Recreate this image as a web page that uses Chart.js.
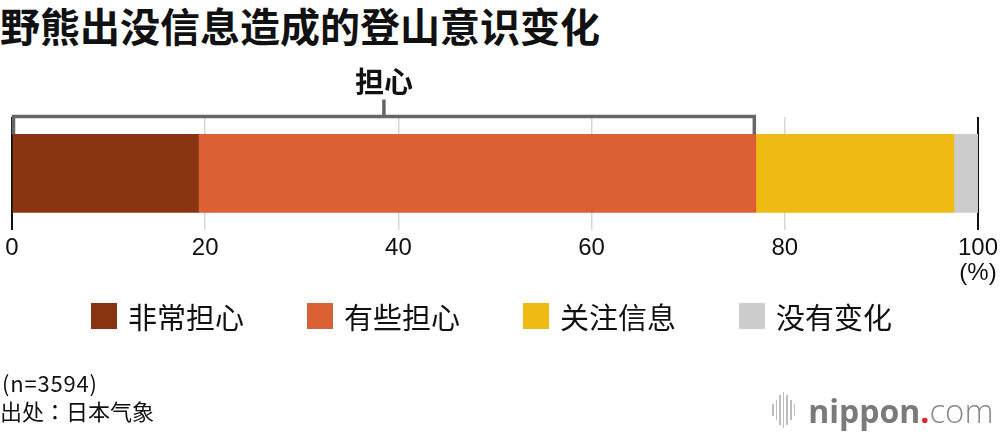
<!DOCTYPE html>
<html><head><meta charset="utf-8">
<script src="https://cdn.jsdelivr.net/npm/chart.js@4.4.1/dist/chart.umd.min.js"></script>
<style>
html,body{margin:0;padding:0;background:#fff;}
#wrap{position:relative;width:1000px;height:432px;overflow:hidden;font-family:"Noto Sans CJK SC",sans-serif;color:#111;}
#title{position:absolute;left:0;top:4px;font-size:40px;font-weight:700;line-height:42px;white-space:nowrap;}
#c{position:absolute;left:0;top:0;}
#legend{position:absolute;left:91px;top:303px;display:flex;gap:63px;}
.item{display:flex;align-items:center;height:26px;}
.box{width:26px;height:26px;margin-right:11px;}
.lt{font-size:29px;line-height:26px;white-space:nowrap;}
#note{position:absolute;left:0;top:368px;font-size:22px;line-height:28px;font-family:"Noto Sans CJK JP",sans-serif;}
#note .n1{letter-spacing:0.8px;padding-left:2px;}
#logo{position:absolute;left:772px;top:390px;height:40px;display:flex;align-items:center;white-space:nowrap;}
#bars{display:flex;align-items:center;gap:2px;height:36px;margin-right:13px;}
#bars span{display:block;width:1.6px;background:#bdbdbd;}
#logo .n{font-family:"Open Sans",sans-serif;font-weight:700;font-size:32px;color:#7a7a7a;}
#logo .d{font-family:"Open Sans",sans-serif;font-weight:700;font-size:32px;color:#e8202a;}
#logo .m{font-family:"Open Sans",sans-serif;font-weight:300;font-size:33px;color:#8a8a8a;}
</style></head>
<body><div id="wrap">
<div id="title">野熊出没信息造成的登山意识变化</div>
<canvas id="c" width="1000" height="432"></canvas>
<div id="legend"></div>
<div id="note"><span class="n1">(n=3594)</span><br>出处：日本气象</div>
<div id="logo"><div id="bars"><span style="height:12px"></span><span style="height:20px"></span><span style="height:30px"></span><span style="height:36px"></span><span style="height:30px"></span><span style="height:20px"></span><span style="height:12px"></span></div><span class="n">nippon</span><span class="d">.</span><span class="m">com</span></div>
</div>
<script>
// ---- data ----
const categories = ['登山意识'];
const seriesNames = ['非常担心', '有些担心', '关注信息', '没有变化'];
const seriesValues = [19.3, 57.7, 20.5, 2.5];
const seriesColors = ['#8b3414', '#db6034', '#f0ba14', '#cccccc'];
const tickValues = [0, 20, 40, 60, 80, 100];
const unitLabel = '(%)';
const bracketLabel = '担心';
const bracketSeries = [0, 1];

const bracketPlugin = {
  id: 'bracket',
  afterDatasetsDraw(chart) {
    const ctx = chart.ctx;
    const xs = chart.scales.x;
    const bar = chart.getDatasetMeta(0).data[0];
    const barTop = bar.y - bar.height / 2;
    let end = 0;
    bracketSeries.forEach(i => { end += seriesValues[i]; });
    const x0 = xs.getPixelForValue(0);
    const x1 = xs.getPixelForValue(end);
    const yb = chart.chartArea.top - 0.5;
    const cx = (x0 + x1) / 2;
    ctx.save();
    ctx.strokeStyle = '#666666';
    ctx.lineWidth = 3.5;
    ctx.lineJoin = 'miter';
    ctx.beginPath();
    ctx.moveTo(x0 + 1.5, barTop);
    ctx.lineTo(x0 + 1.5, yb);
    ctx.lineTo(x1 - 1.5, yb);
    ctx.lineTo(x1 - 1.5, barTop);
    ctx.stroke();
    ctx.beginPath();
    ctx.moveTo(cx, yb);
    ctx.lineTo(cx, yb - 17);
    ctx.stroke();
    ctx.fillStyle = '#111';
    ctx.font = '700 29px "Noto Sans CJK SC"';
    ctx.textAlign = 'center';
    ctx.textBaseline = 'middle';
    ctx.fillText(bracketLabel, cx, yb - 35);
    ctx.restore();
  }
};

const chart = new Chart(document.getElementById('c'), {
  type: 'bar',
  data: {
    labels: categories,
    datasets: seriesNames.map((n, i) => ({
      label: n,
      data: [seriesValues[i]],
      backgroundColor: seriesColors[i],
      borderWidth: 0,
      barThickness: 78
    }))
  },
  options: {
    indexAxis: 'y',
    responsive: false,
    animation: false,
    events: [],
    layout: { padding: { top: 117, left: 0, right: 0, bottom: 140 } },
    plugins: { legend: { display: false }, tooltip: { enabled: false }, title: { display: false } },
    scales: {
      x: {
        stacked: true,
        min: 0, max: 100,
        afterBuildTicks(scale) { scale.ticks = tickValues.map(v => ({ value: v })); },
        afterFit(scale) { scale.paddingLeft = 12; scale.paddingRight = 22; },
        border: { display: false },
        grid: {
          drawTicks: false,
          color: c => (c.tick && (c.tick.value === 0 || c.tick.value === 100)) ? '#111111' : '#d6d6d6',
          lineWidth: c => (c.tick && (c.tick.value === 0 || c.tick.value === 100)) ? 2 : 1.5
        },
        ticks: {
          padding: 6,
          color: '#111',
          maxRotation: 0,
          autoSkip: false,
          font: { family: '"Liberation Sans", Arial, sans-serif', size: 24, lineHeight: 1.05 },
          callback: v => v === 100 ? ['100', unitLabel] : String(v)
        }
      },
      y: { stacked: true, display: false }
    }
  },
  plugins: [bracketPlugin]
});

// HTML legend built from the chart's datasets
const lg = document.getElementById('legend');
chart.data.datasets.forEach(ds => {
  const it = document.createElement('div'); it.className = 'item';
  const b = document.createElement('div'); b.className = 'box'; b.style.background = ds.backgroundColor;
  const t = document.createElement('div'); t.className = 'lt'; t.textContent = ds.label;
  it.appendChild(b); it.appendChild(t); lg.appendChild(it);
});
</script>
</body></html>
